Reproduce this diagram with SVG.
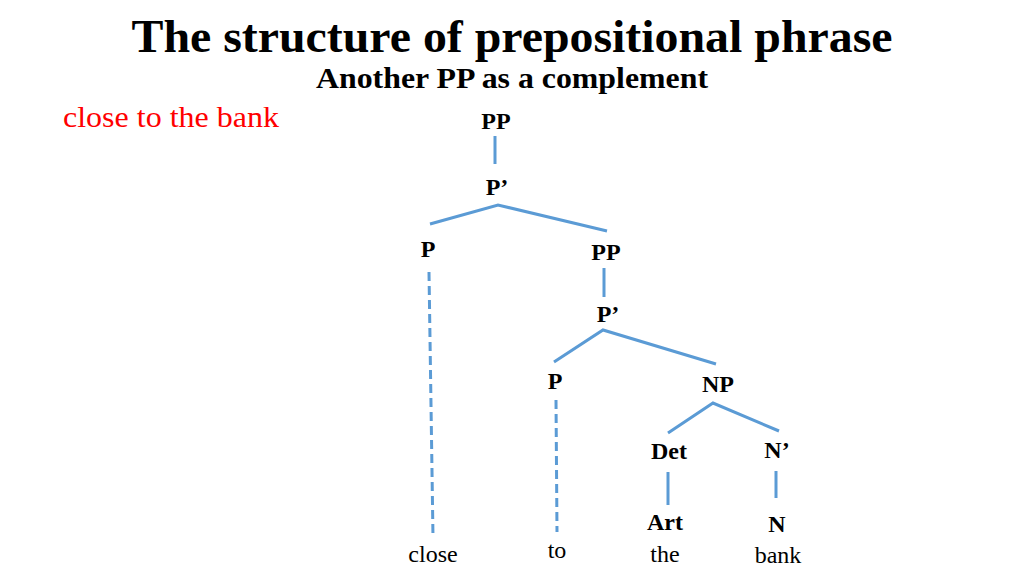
<svg xmlns="http://www.w3.org/2000/svg" width="1024" height="576" viewBox="0 0 1024 576" font-family="'Liberation Serif', 'Times New Roman', Times, serif">
<style>
text{fill:#000;text-anchor:middle}
.t{font-size:46px;font-weight:bold}
.s{font-size:29px;font-weight:bold}
.red{font-size:29px;fill:#ff0000;text-anchor:start}
.n{font-size:24px;font-weight:bold}
.w{font-size:24px}
.e{stroke:#5b9bd5;stroke-width:3;fill:none}
.d{stroke-dasharray:9 5}
</style>
<rect width="1024" height="576" fill="#fff"/>
<text class="t" x="512" y="52" textLength="761" lengthAdjust="spacingAndGlyphs">The structure of prepositional phrase</text>
<text class="s" x="512" y="88" textLength="392" lengthAdjust="spacingAndGlyphs">Another PP as a complement</text>
<text class="red" x="63" y="127" textLength="216" lengthAdjust="spacingAndGlyphs">close to the bank</text>
<g id="connectors">
<path class="e" d="M495,136V164"/>
<path class="e" d="M430,224L498,205L607,231"/>
<path class="e d" d="M429,272L433,537"/>
<path class="e" d="M604,268V297"/>
<path class="e" d="M554,362L603,330L716,364"/>
<path class="e d" d="M556,400L557,532"/>
<path class="e" d="M668,433L713,403L779,431"/>
<path class="e" d="M668,472V505"/>
<path class="e" d="M776,471V498"/>
</g>
<g id="pp1"><text class="n" x="496" y="129">PP</text></g>
<g id="pbar1"><text class="n" x="497" y="195">P’</text></g>
<g id="p1"><text class="n" x="428" y="257">P</text></g>
<g id="pp2"><text class="n" x="606" y="260">PP</text></g>
<g id="pbar2"><text class="n" x="608" y="322">P’</text></g>
<g id="p2"><text class="n" x="555" y="389">P</text></g>
<g id="np"><text class="n" x="718" y="392">NP</text></g>
<g id="det"><text class="n" x="669" y="459">Det</text></g>
<g id="nbar"><text class="n" x="777" y="458">N’</text></g>
<g id="art"><text class="n" x="665" y="530">Art</text></g>
<g id="n"><text class="n" x="777" y="532">N</text></g>
<g id="close"><text class="w" x="433" y="562">close</text></g>
<g id="to"><text class="w" x="557" y="558">to</text></g>
<g id="the"><text class="w" x="665" y="562">the</text></g>
<g id="bank"><text class="w" x="778" y="563">bank</text></g>
</svg>
